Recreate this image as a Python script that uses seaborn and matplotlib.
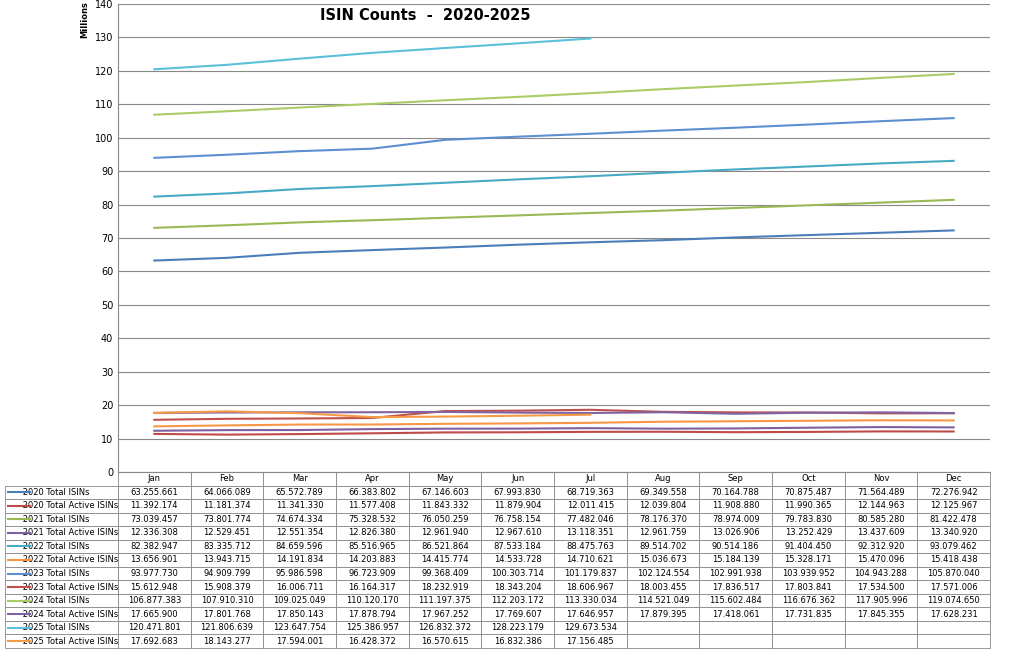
import numpy as np
import pandas as pd
import matplotlib
matplotlib.use("Agg")
import matplotlib.pyplot as plt
from matplotlib.lines import Line2D
import seaborn as sns

months = ["Jan","Feb","Mar","Apr","May","Jun","Jul","Aug","Sep","Oct","Nov","Dec"]
s2020_total = [63255661,64066089,65572789,66383802,67146603,67993830,68719363,69349558,70164788,70875487,71564489,72276942]
s2020_active = [11392174,11181374,11341330,11577408,11843332,11879904,12011415,12039804,11908880,11990365,12144963,12125967]
s2021_total = [73039457,73801774,74674334,75328532,76050259,76758154,77482046,78176370,78974009,79783830,80585280,81422478]
s2021_active = [12336308,12529451,12551354,12826380,12961940,12967610,13118351,12961759,13026906,13252429,13437609,13340920]
s2022_total = [82382947,83335712,84659596,85516965,86521864,87533184,88475763,89514702,90514186,91404450,92312920,93079462]
s2022_active = [13656901,13943715,14191834,14203883,14415774,14533728,14710621,15036673,15184139,15328171,15470096,15418438]
s2023_total = [93977730,94909799,95986598,96723909,99368409,100303714,101179837,102124554,102991938,103939952,104943288,105870040]
s2023_active = [15612948,15908379,16006711,16164317,18232919,18343204,18606967,18003455,17836517,17803841,17534500,17571006]
s2024_total = [106877383,107910310,109025049,110120170,111197375,112203172,113330034,114521049,115602484,116676362,117905996,119074650]
s2024_active = [17665900,17801768,17850143,17878794,17967252,17769607,17646957,17879395,17418061,17731835,17845355,17628231]
s2025_total = [120471801,121806639,123647754,125386957,126832372,128223179,129673534]
s2025_active = [17692683,18143277,17594001,16428372,16570615,16832386,17156485]

series_names = ["2020 Total ISINs","2020 Total Active ISINs","2021 Total ISINs","2021 Total Active ISINs",
                "2022 Total ISINs","2022 Total Active ISINs","2023 Total ISINs","2023 Total Active ISINs",
                "2024 Total ISINs","2024 Total Active ISINs","2025 Total ISINs","2025 Total Active ISINs"]
series_vals = [s2020_total,s2020_active,s2021_total,s2021_active,s2022_total,s2022_active,
               s2023_total,s2023_active,s2024_total,s2024_active,s2025_total,s2025_active]
colors = ["#4a7ebb","#be4b48","#98b954","#7d60a0","#46aac5","#f79646",
          "#5b8fd0","#c0504d","#a9cc66","#8064a2","#5bc0da","#f59a46"]

rows = []
for name, vals in zip(series_names, series_vals):
    for i, v in enumerate(vals):
        rows.append({"series": name, "x": i, "val": v/1e6})
df = pd.DataFrame(rows)

W, H = 1024, 652
fig = plt.figure(figsize=(W/100, H/100), dpi=100)
L, R, T, B = 118, 990, 4, 472
ax = fig.add_axes([L/W, 1-B/H, (R-L)/W, (B-T)/H])
sns.lineplot(data=df, x="x", y="val", hue="series", hue_order=series_names,
             palette=colors, linewidth=1.5, ax=ax, legend=False)
ax.set_xlim(-0.5, 11.5)
ax.set_ylim(0, 140)
ax.set_yticks(range(0, 141, 10))
ax.tick_params(axis="y", labelsize=7, length=0)
ax.set_xticks([])
ax.set_xlabel(""); ax.set_ylabel("")
ax.yaxis.grid(True, color="#888888", linewidth=0.8)
ax.set_axisbelow(True)
for s in ["top","right"]:
    ax.spines[s].set_visible(False)
ax.spines["left"].set_color("#888888")
ax.spines["bottom"].set_color("#888888")
fig.text(425/W, 1-16/H, "ISIN Counts  -  2020-2025", ha="center", va="center", fontsize=10.5, fontweight="bold")
fig.text(85/W, 1-20/H, "Millions", rotation=90, ha="center", va="center", fontsize=6, fontweight="bold")

def fmt(v):
    return f"{v:,}".replace(",", ".")
cell_text = []
for name, vals in zip(series_names, series_vals):
    r = ["      " + name] + [fmt(v) for v in vals] + [""]*(12-len(vals))
    cell_text.append(r)
TL, TB = 5, 648
axw, axh = R-L, B-T
tbl = ax.table(cellText=cell_text, colLabels=[""]+months,
               colWidths=[113]+[(R-L)/12]*12, cellLoc="center",
               bbox=[(TL-L)/axw, -(TB-B)/axh, (R-TL)/axw, (TB-B)/axh])
tbl.auto_set_font_size(False)
tbl.set_fontsize(6)
for (r, c), cell in tbl.get_celld().items():
    cell.set_edgecolor("#888888")
    cell.set_linewidth(0.6)
    if c == 0:
        cell.get_text().set_ha("left")
        cell.PAD = 0.02
    if r == 0 and c == 0:
        cell.set_edgecolor("white")
rowh = (TB-B)/13
for i, col in enumerate(colors):
    yc = B + rowh*(i+1.5)
    fig.add_artist(Line2D([8/W, 30/W], [1-yc/H, 1-yc/H], color=col, linewidth=1.5))

fig.savefig("out.png", dpi=100)
